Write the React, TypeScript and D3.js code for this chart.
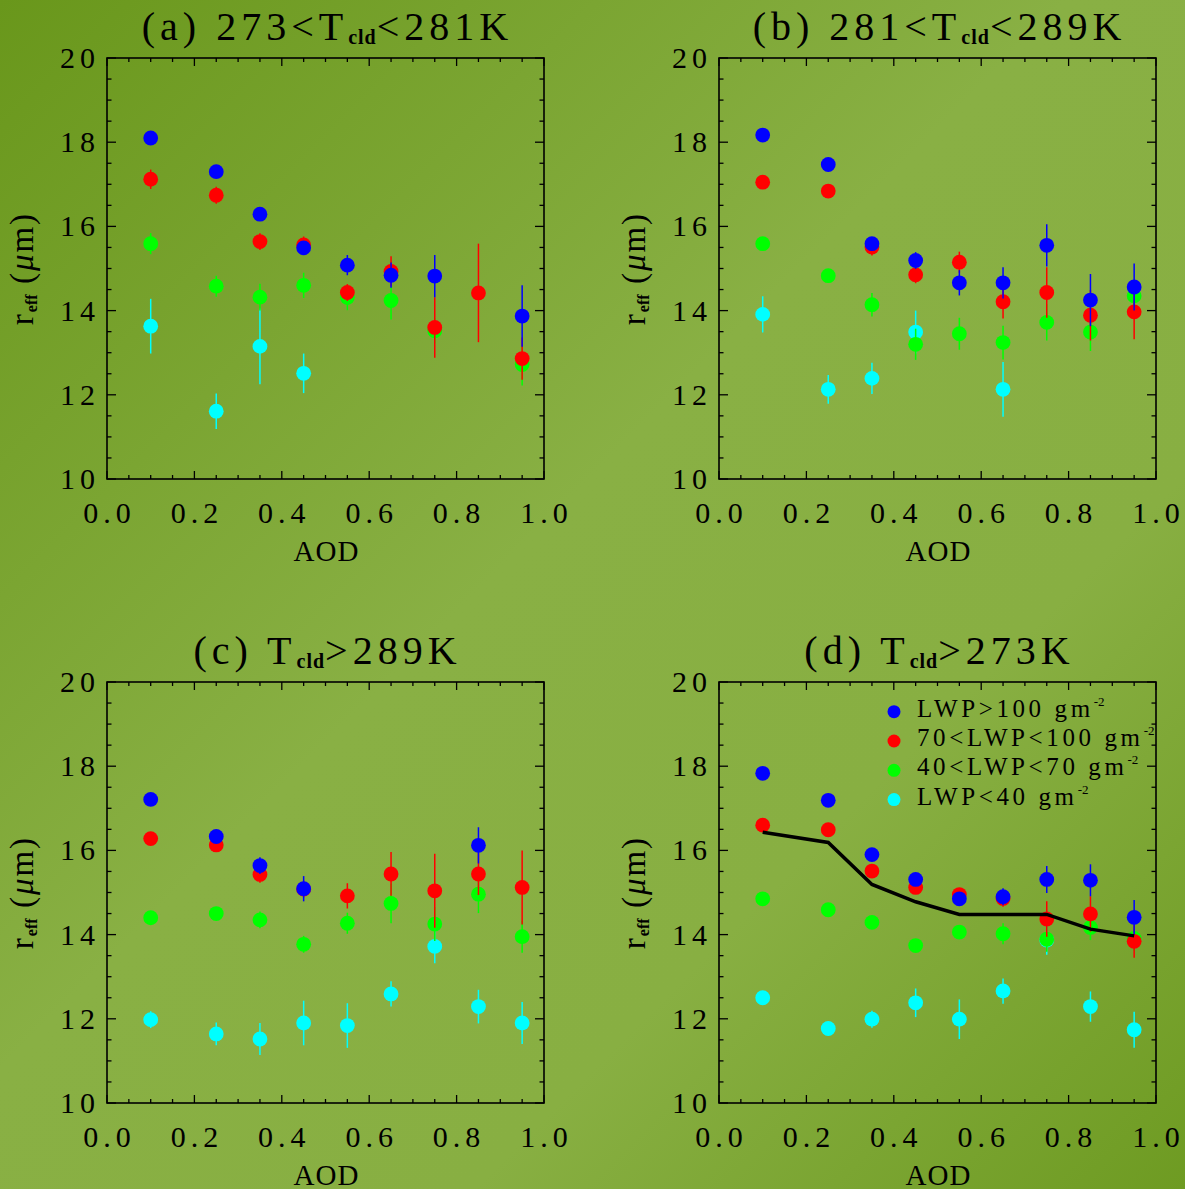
import React from "react";
import * as d3 from "d3";

const WIDTH = 1185;
const HEIGHT = 1189;
const PW = 437;
const PH = 421;
const FONT = "'Liberation Serif', 'Times New Roman', serif";

const AOD = [0.1, 0.25, 0.35, 0.45, 0.55, 0.65, 0.75, 0.85, 0.95];
const X_TICKS = ["0.0", "0.2", "0.4", "0.6", "0.8", "1.0"];
const Y_TICKS = ["10", "12", "14", "16", "18", "20"];
const LEGEND = ["LWP>100 gm", "70<LWP<100 gm", "40<LWP<70 gm", "LWP<40 gm"];
const COLORS = ["#0000ff", "#ff0000", "#00ff00", "#00ffff"];

// (a) 273<Tcld<281K
const blueA = [18.1, 17.3, 16.29, 15.49, 15.08, 14.84, 14.82, null, 13.87];
const blueAErr = [0.1, 0.1, 0.1, 0.15, 0.24, 0.3, 0.5, null, 0.73];
const redA = [17.12, 16.74, 15.64, 15.56, 14.43, 14.93, 13.6, 14.42, 12.86];
const redAErr = [0.23, 0.2, 0.2, 0.2, 0.2, 0.36, 0.72, 1.17, 0.5];
const greenA = [15.59, 14.58, 14.32, 14.6, 14.31, 14.24, 13.52, null, 12.72];
const greenAErr = [0.25, 0.25, 0.32, 0.3, 0.3, 0.45, 0.3, null, 0.5];
const cyanA = [13.63, 11.61, 13.15, 12.51, null, null, null, null, null];
const cyanAErr = [0.65, 0.42, 0.9, 0.47, null, null, null, null, null];

// (b) 281<Tcld<289K
const blueB = [18.17, 17.47, 15.59, 15.19, 14.66, 14.66, 15.55, 14.25, 14.56];
const blueBErr = [0.1, 0.1, 0.15, 0.2, 0.3, 0.37, 0.5, 0.62, 0.56];
const redB = [17.05, 16.84, 15.51, 14.85, 15.15, 14.21, 14.43, 13.89, 13.97];
const redBErr = [0.1, 0.1, 0.2, 0.2, 0.25, 0.4, 0.6, 0.6, 0.65];
const greenB = [15.59, 14.83, 14.14, 13.2, 13.45, 13.24, 13.72, 13.49, 14.35];
const greenBErr = [0.1, 0.1, 0.28, 0.37, 0.38, 0.4, 0.43, 0.45, 0.3];
const cyanB = [13.91, 12.13, 12.39, 13.49, null, 12.13, null, null, null];
const cyanBErr = [0.43, 0.34, 0.37, 0.51, null, 0.65, null, null, null];

// (c) Tcld>289K
const blueC = [17.21, 16.33, 15.64, 15.09, null, null, null, 16.12, null];
const blueCErr = [0.1, 0.1, 0.2, 0.3, null, null, null, 0.43, null];
const redC = [16.28, 16.13, 15.43, 15.08, 14.92, 15.44, 15.04, 15.44, 15.12];
const redCErr = [0.1, 0.15, 0.2, 0.2, 0.3, 0.52, 0.88, 0.5, 0.88];
const greenC = [14.4, 14.5, 14.35, 13.77, 14.27, 14.74, 14.25, 14.96, 13.95];
const greenCErr = [0.1, 0.1, 0.2, 0.2, 0.25, 0.47, 0.4, 0.45, 0.38];
const cyanC = [11.98, 11.64, 11.52, 11.9, 11.84, 12.59, 13.72, 12.29, 11.9];
const cyanCErr = [0.2, 0.27, 0.38, 0.53, 0.53, 0.3, 0.4, 0.4, 0.5];

// (d) Tcld>273K
const blueD = [17.83, 17.19, 15.9, 15.31, 14.85, 14.9, 15.31, 15.29, 14.41];
const blueDErr = [0.1, 0.1, 0.1, 0.15, 0.15, 0.2, 0.32, 0.38, 0.41];
const redD = [16.6, 16.49, 15.51, 15.12, 14.95, 14.86, 14.37, 14.49, 13.84];
const redDErr = [0.1, 0.1, 0.1, 0.15, 0.15, 0.2, 0.42, 0.42, 0.39];
const greenD = [14.85, 14.59, 14.29, 13.74, 14.06, 14.02, 13.89, 14.17, 13.91];
const greenDErr = [0.1, 0.1, 0.1, 0.15, 0.15, 0.25, 0.3, 0.3, 0.3];
const cyanD = [12.5, 11.77, 11.99, 12.38, 11.99, 12.66, 13.87, 12.29, 11.74];
const cyanDErr = [0.1, 0.15, 0.2, 0.34, 0.47, 0.3, 0.35, 0.36, 0.43];
const meanD = [16.43, 16.19, 15.19, 14.78, 14.48, 14.48, 14.48, 14.13, 13.97];

const panels = [
  { left: 107, top: 58, title: ["(a) 273<T", "cld", "<281K"], sets: [[blueA, blueAErr], [redA, redAErr], [greenA, greenAErr], [cyanA, cyanAErr]] },
  { left: 719, top: 58, title: ["(b) 281<T", "cld", "<289K"], sets: [[blueB, blueBErr], [redB, redBErr], [greenB, greenBErr], [cyanB, cyanBErr]] },
  { left: 107, top: 682, title: ["(c) T", "cld", ">289K"], sets: [[blueC, blueCErr], [redC, redCErr], [greenC, greenCErr], [cyanC, cyanCErr]] },
  { left: 719, top: 682, title: ["(d) T", "cld", ">273K"], sets: [[blueD, blueDErr], [redD, redDErr], [greenD, greenDErr], [cyanD, cyanDErr]], mean: meanD, legend: true },
];

function Panel({ p }) {
  const x = d3.scaleLinear().domain([0, 1]).range([p.left, p.left + PW]);
  const y = d3.scaleLinear().domain([10, 20]).range([p.top + PH, p.top]);
  const bottom = p.top + PH;
  const right = p.left + PW;
  const xMinor = d3.range(0, 1.0001, 0.05);
  const yMinor = d3.range(10, 20.0001, 0.5);
  const isMajorX = (v) => Math.abs(v * 5 - Math.round(v * 5)) < 1e-6;
  const isMajorY = (v) => Math.abs(v / 2 - Math.round(v / 2)) < 1e-6;
  const cx = p.left + PW / 2;
  const cy = p.top + PH / 2;
  const line = d3
    .line()
    .x((d) => x(d[0]))
    .y((d) => y(d[1]));

  // draw cyan first, blue last
  const order = [3, 2, 1, 0];

  return (
    <g>
      <text x={cx + 2} y={p.top - 18} textAnchor="middle" fontSize={40} letterSpacing={5} fontFamily={FONT}>
        {p.title[0]}
        <tspan fontSize={20} fontWeight="bold" dy={4} letterSpacing={1}>{p.title[1]}</tspan>
        <tspan dy={-4}>{p.title[2]}</tspan>
      </text>

      {xMinor.map((v, i) => {
        const len = isMajorX(v) ? 8 : 4;
        return (
          <g key={"xt" + i} stroke="#000" strokeWidth={1.3}>
            <line x1={x(v)} x2={x(v)} y1={bottom} y2={bottom - len} />
            <line x1={x(v)} x2={x(v)} y1={p.top} y2={p.top + len} />
          </g>
        );
      })}
      {yMinor.map((v, i) => {
        const len = isMajorY(v) ? 9 : 4.5;
        return (
          <g key={"yt" + i} stroke="#000" strokeWidth={1.3}>
            <line x1={p.left} x2={p.left + len} y1={y(v)} y2={y(v)} />
            <line x1={right} x2={right - len} y1={y(v)} y2={y(v)} />
          </g>
        );
      })}
      <rect x={p.left} y={p.top} width={PW} height={PH} fill="none" stroke="#000" strokeWidth={1.6} />

      {X_TICKS.map((t) => (
        <text key={"xl" + t} x={x(+t) + 2.5} y={bottom + 44} textAnchor="middle" fontSize={30} letterSpacing={5} fontFamily={FONT}>
          {t}
        </text>
      ))}
      {Y_TICKS.map((t) => (
        <text key={"yl" + t} x={p.left - 7} y={y(+t) + 10} textAnchor="end" fontSize={30} letterSpacing={5} fontFamily={FONT}>
          {t}
        </text>
      ))}
      <text x={cx + 1} y={bottom + 82} textAnchor="middle" fontSize={29} letterSpacing={1} fontFamily={FONT}>
        AOD
      </text>
      <text transform={`translate(${p.left - 74},${cy}) rotate(-90)`} textAnchor="middle" fontSize={33} letterSpacing={2} fontFamily={FONT}>
        r<tspan fontSize={16} fontWeight="bold" dy={4} letterSpacing={0}>eff</tspan>
        <tspan dy={-4}> (</tspan>
        <tspan fontStyle="italic">μ</tspan>m)
      </text>

      {order.map((si) => {
        const [vals, errs] = p.sets[si];
        const color = COLORS[si];
        return (
          <g key={"s" + si}>
            {vals.map((v, i) =>
              v == null ? null : (
                <g key={i}>
                  <line x1={x(AOD[i])} x2={x(AOD[i])} y1={y(v - errs[i])} y2={y(v + errs[i])} stroke={color} strokeWidth={1.5} />
                  <circle cx={x(AOD[i])} cy={y(v)} r={7.4} fill={color} />
                </g>
              )
            )}
          </g>
        );
      })}

      {p.mean && (
        <path d={line(p.mean.map((v, i) => [AOD[i], v]))} fill="none" stroke="#000" strokeWidth={3.5} />
      )}

      {p.legend &&
        LEGEND.map((label, i) => (
          <g key={"lg" + i}>
            <circle cx={p.left + 175} cy={p.top + 29.7 + i * 29.3} r={6.5} fill={COLORS[i]} />
            <text x={p.left + 198} y={p.top + 34.7 + i * 29.3} fontSize={25} letterSpacing={3.6} fontFamily={FONT}>
              {label}
              <tspan fontSize={13} dy={-11} letterSpacing={0}>-2</tspan>
            </text>
          </g>
        ))}
    </g>
  );
}

export default function App() {
  return (
    <svg width={WIDTH} height={HEIGHT} style={{ position: "absolute", left: 0, top: 0 }}>
      <defs>
        <linearGradient id="bg" x1="0" y1="0" x2="1" y2="1">
          <stop offset="0" stopColor="#69971b" />
          <stop offset="0.45" stopColor="#89b044" />
          <stop offset="0.7" stopColor="#88af42" />
          <stop offset="1" stopColor="#6e9b22" />
        </linearGradient>
      </defs>
      <rect width={WIDTH} height={HEIGHT} fill="url(#bg)" />
      {panels.map((p, i) => (
        <Panel key={i} p={p} />
      ))}
    </svg>
  );
}
